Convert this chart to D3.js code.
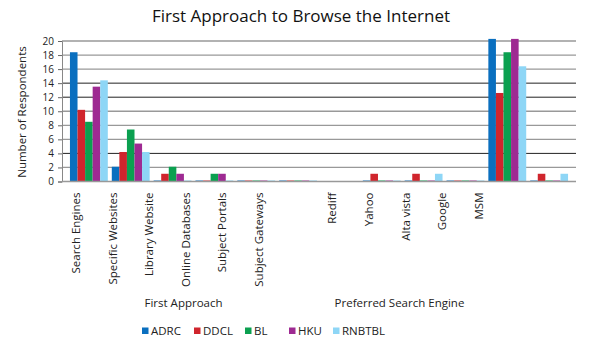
<!DOCTYPE html>
<html><head><meta charset="utf-8">
<script src="https://cdn.jsdelivr.net/npm/d3@7"></script>
<style>
body{margin:0;background:#fff;}
svg{display:block;font-family:"Open Sans",sans-serif;}
</style></head>
<body><svg id="c" width="600" height="356"></svg>
<script>
const categories = ["Search Engines","Specific Websites","Library Website","Online Databases","Subject Portals","Subject Gateways","","Rediff","Yahoo","Alta vista","Google","MSM"];
const seriesNames = ["ADRC","DDCL","BL","HKU","RNBTBL"];
const ADRC   = [18.4, 2.1, 0,   0,   0, 0, null, 0,   0,   0, 20.3, 0];
const DDCL   = [10.2, 4.2, 1.1, 0,   0, 0, null, 1.1, 1.1, 0, 12.6, 1.1];
const BL     = [8.5,  7.4, 2.1, 1.1, 0, 0, null, 0,   0,   0, 18.4, 0];
const HKU    = [13.5, 5.4, 1.1, 1.1, 0, 0, null, 0,   0,   0, 20.3, 0];
const RNBTBL = [14.4, 4.2, 0,   0,   0, 0, null, 0,   1.1, 0, 16.4, 1.1];
const colors = ["#0a6fbf","#d0252d","#0ba050","#9e2a92","#8ed6f6"];
const yTicks = [0,2,4,6,8,10,12,14,16,18,20];
const groupLabels = ["First Approach","Preferred Search Engine"];
const seriesValues = [ADRC, DDCL, BL, HKU, RNBTBL];

const svg = d3.select("#c");
const L = 62, R = 576, T = 41, B = 181.5;

const x = d3.scaleBand().domain(d3.range(categories.length)).range([L, R]).paddingInner(4/42).paddingOuter(0.19);
const xs = d3.scaleBand().domain(seriesNames).range([0, x.bandwidth()]);
const y = d3.scaleLinear().domain([0, 20]).range([B, T]);
// tick label positions (labels are laid out on a narrower scale in the reference)
const xl = d3.scaleBand().domain(d3.range(categories.length)).range([57.7, 497]);

// title
svg.append("text").attr("x", 301).attr("y", 22).attr("text-anchor","middle")
  .attr("font-size", 17).attr("fill","#111").text("First Approach to Browse the Internet");

// gridlines
const darkLines = new Set([4,12,14]);
svg.append("g").selectAll("line").data(yTicks.filter(d=>d>0)).join("line")
  .attr("x1", L).attr("x2", R)
  .attr("y1", d=>y(d)).attr("y2", d=>y(d))
  .attr("stroke", d=>darkLines.has(d) ? "#222" : "#999")
  .attr("stroke-width", d=>darkLines.has(d) ? 1 : 1.3);

// y axis
const yAxis = d3.axisLeft(y).tickValues(yTicks).tickSize(4).tickPadding(4);
const gy = svg.append("g").attr("transform", `translate(${L},0)`).call(yAxis);
gy.select(".domain").attr("stroke","#888");
gy.selectAll(".tick line").attr("stroke","#666");
gy.selectAll("text").attr("font-size", 10).attr("fill","#222").attr("font-family","'Open Sans',sans-serif");

// bars
const data = [];
categories.forEach((c,i)=>seriesNames.forEach((s,j)=>{
  const v = seriesValues[j][i];
  if (v !== null) data.push({i, s, j, v});
}));
svg.append("g").selectAll("rect").data(data).join("rect")
  .attr("x", d=>x(d.i)+xs(d.s))
  .attr("width", xs.bandwidth())
  .attr("y", d=>Math.min(y(d.v), B-1))
  .attr("height", d=>Math.max(B - y(d.v), 1))
  .attr("fill", d=>colors[d.j]);

// x axis baseline
svg.append("line").attr("x1", L).attr("x2", R).attr("y1", B).attr("y2", B).attr("stroke","#999").attr("stroke-width",1.3);

// x category labels
const xAxis = d3.axisBottom(xl).tickFormat(i=>categories[i]).tickSize(0);
const gx = svg.append("g").attr("transform", `translate(0,${B})`).call(xAxis);
gx.select(".domain").remove();
gx.selectAll("text").attr("font-size", 11.5).attr("fill","#222").attr("font-family","'Open Sans',sans-serif")
  .attr("text-anchor","end").attr("transform","rotate(-90)")
  .attr("x", -11).attr("y", 0).attr("dy","0.35em");

// y axis title
svg.append("text").attr("transform", "translate(26,112) rotate(-90)").attr("text-anchor","middle")
  .attr("font-size", 11.5).attr("fill","#222").text("Number of Respondents");

// group labels
const gpos = [(xl(0)+xl(5))/2 + xl.bandwidth()/2 + 16, (xl(7)+xl(11))/2 + xl.bandwidth()/2 - 6];
svg.append("g").selectAll("text").data(groupLabels).join("text")
  .attr("x", (d,i)=>gpos[i]).attr("y", 307).attr("text-anchor","middle")
  .attr("font-size", 11.5).attr("fill","#222").text(d=>d);

// legend
const legX = [142, 194, 245, 289, 333];
const leg = svg.append("g").selectAll("g").data(seriesNames).join("g")
  .attr("transform",(d,i)=>`translate(${legX[i]},331)`);
leg.append("rect").attr("x",0).attr("y",-3.5).attr("width",6.5).attr("height",6.5).attr("fill",(d,i)=>colors[i]);
leg.append("text").attr("x",9).attr("y",0).attr("dy","0.36em").attr("font-size",11.5).attr("fill","#222").text(d=>d);
</script></body></html>
